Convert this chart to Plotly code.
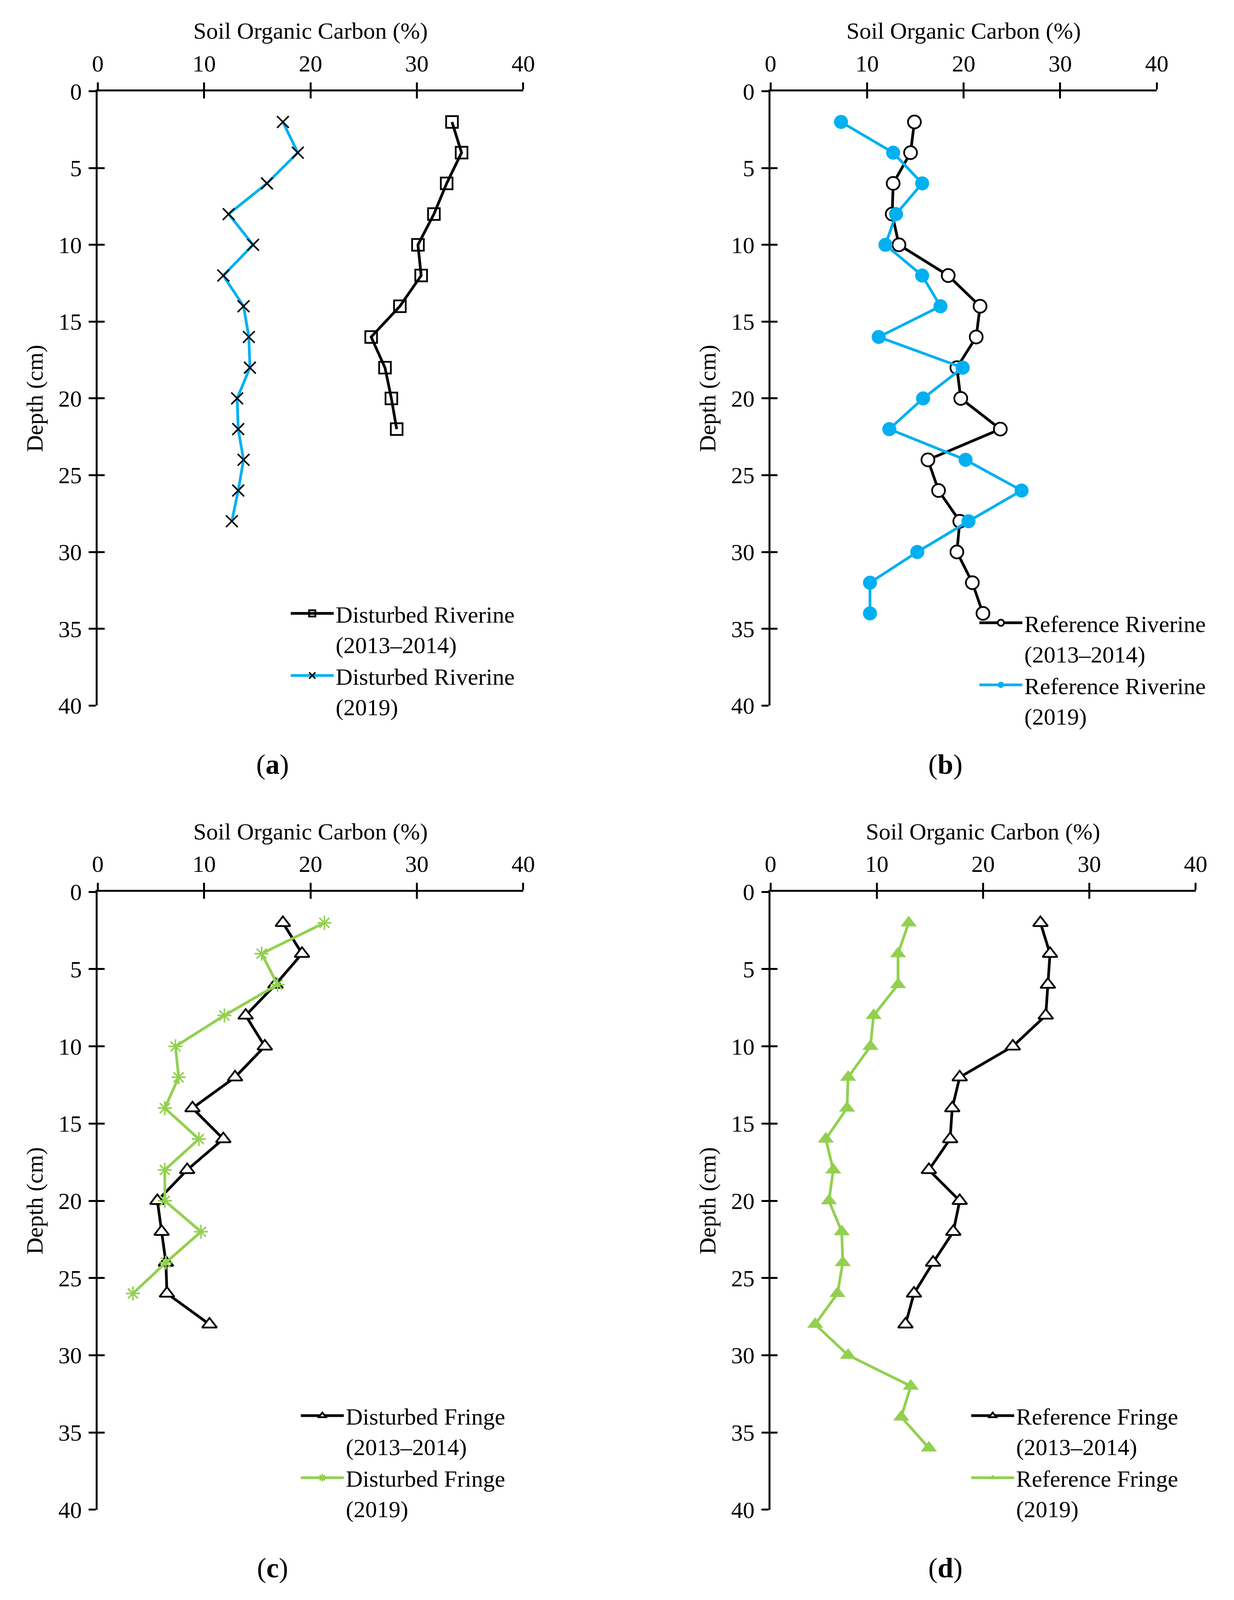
import plotly.graph_objects as go

BLUE = '#00B0F0'
GREEN = '#92D050'
FONT = 'Liberation Serif'
PAGE_W, PAGE_H = 3160, 4117
PAD = 8        # default body margin of the html page
SCALE = 1.006  # small correction seen between requested and captured positions
W, H = PAGE_W - 2 * PAD, PAGE_H - 2 * PAD

# (a) Disturbed Riverine
depth_a_1314 = [2, 4, 6, 8, 10, 12, 14, 16, 18, 20, 22]
soc_a_1314 = [33.3, 34.2, 32.8, 31.6, 30.1, 30.4, 28.4, 25.7, 27.0, 27.6, 28.1]
depth_a_2019 = [2, 4, 6, 8, 10, 12, 14, 16, 18, 20, 22, 24, 26, 28]
soc_a_2019 = [17.4, 18.8, 15.9, 12.3, 14.6, 11.8, 13.7, 14.2, 14.3, 13.1, 13.2, 13.7, 13.2, 12.6]

# (b) Reference Riverine
depth_b_1314 = [2, 4, 6, 8, 10, 12, 14, 16, 18, 20, 22, 24, 26, 28, 30, 32, 34]
soc_b_1314 = [14.9, 14.5, 12.7, 12.6, 13.3, 18.4, 21.7, 21.3, 19.3, 19.7, 23.8, 16.3, 17.4, 19.6, 19.3, 20.9, 22.0]
depth_b_2019 = [2, 4, 6, 8, 10, 12, 14, 16, 18, 20, 22, 24, 26, 28, 30, 32, 34]
soc_b_2019 = [7.3, 12.7, 15.7, 13.0, 11.9, 15.7, 17.6, 11.2, 19.9, 15.8, 12.3, 20.2, 26.0, 20.5, 15.2, 10.3, 10.3]

# (c) Disturbed Fringe
depth_c_1314 = [2, 4, 6, 8, 10, 12, 14, 16, 18, 20, 22, 24, 26, 28]
soc_c_1314 = [17.4, 19.2, 16.7, 13.9, 15.7, 12.9, 8.9, 11.8, 8.4, 5.6, 6.0, 6.4, 6.5, 10.5]
depth_c_2019 = [2, 4, 6, 8, 10, 12, 14, 16, 18, 20, 22, 24, 26]
soc_c_2019 = [21.3, 15.4, 16.9, 11.9, 7.3, 7.6, 6.3, 9.5, 6.3, 6.3, 9.7, 6.4, 3.3]

# (d) Reference Fringe
depth_d_1314 = [2, 4, 6, 8, 10, 12, 14, 16, 18, 20, 22, 24, 26, 28]
soc_d_1314 = [25.4, 26.3, 26.1, 25.9, 22.8, 17.8, 17.1, 16.9, 14.9, 17.8, 17.2, 15.3, 13.5, 12.7]
depth_d_2019 = [2, 4, 6, 8, 10, 12, 14, 16, 18, 20, 22, 24, 26, 28, 30, 32, 34, 36]
soc_d_2019 = [13.0, 12.0, 12.0, 9.7, 9.4, 7.3, 7.2, 5.2, 5.9, 5.5, 6.7, 6.8, 6.3, 4.2, 7.3, 13.2, 12.3, 14.9]

x_ticks = [0, 10, 20, 30, 40]
y_ticks = [0, 5, 10, 15, 20, 25, 30, 35, 40]

# page pixel boxes of each panel: (left, right, top, bottom), legend (x, y), label (x, y)
panels = [
    dict(box=(252, 1348, 235, 1817), leg=(744, 1534), lab=(702, 1969), letter='a'),
    dict(box=(1985, 2980, 235, 1817), leg=(2518, 1558), lab=(2436, 1969), letter='b'),
    dict(box=(252, 1348, 2297, 3888), leg=(770, 3600), lab=(702, 4038), letter='c'),
    dict(box=(1985, 3080, 2297, 3888), leg=(2497, 3600), lab=(2436, 4038), letter='d'),
]

series = [
    # panel index, x, y, name, line colour, marker
    (0, soc_a_1314, depth_a_1314, 'Disturbed Riverine<br>(2013–2014)', 'black',
     dict(symbol='square-open', size=30, color='black', line=dict(color='black', width=4.5))),
    (0, soc_a_2019, depth_a_2019, 'Disturbed Riverine<br>(2019)', BLUE,
     dict(symbol='x-thin', size=30, color='black', line=dict(color='black', width=4))),
    (1, soc_b_1314, depth_b_1314, 'Reference Riverine<br>(2013–2014)', 'black',
     dict(symbol='circle', size=33, color='white', line=dict(color='black', width=4.5))),
    (1, soc_b_2019, depth_b_2019, 'Reference Riverine<br>(2019)', BLUE,
     dict(symbol='circle', size=36, color=BLUE, line=dict(width=0))),
    (2, soc_c_1314, depth_c_1314, 'Disturbed Fringe<br>(2013–2014)', 'black',
     dict(symbol='triangle-up', size=33, color='white', line=dict(color='black', width=4.5))),
    (2, soc_c_2019, depth_c_2019, 'Disturbed Fringe<br>(2019)', GREEN,
     dict(symbol='asterisk-open', size=30, color=GREEN, line=dict(color=GREEN, width=4))),
    (3, soc_d_1314, depth_d_1314, 'Reference Fringe<br>(2013–2014)', 'black',
     dict(symbol='triangle-up', size=33, color='white', line=dict(color='black', width=4.5))),
    (3, soc_d_2019, depth_d_2019, 'Reference Fringe<br>(2019)', GREEN,
     dict(symbol='triangle-up', size=36, color=GREEN, line=dict(width=0))),
]

def px_x(p):
    return (p / SCALE - PAD) / W

def px_y(p):
    return 1 - (p / SCALE - PAD) / H

def sfx(i):
    return '' if i == 0 else str(i + 1)

fig = go.Figure()

for p, xs, ys, name, lc, mk in series:
    fig.add_trace(go.Scatter(
        x=xs, y=ys, name=name, mode='lines+markers',
        line=dict(color=lc, width=7), marker=mk,
        xaxis='x' + sfx(p), yaxis='y' + sfx(p),
        legend='legend' + sfx(p),
    ))

axis_font = dict(family=FONT, size=60, color='black')
layout = dict(
    width=W, height=H, margin=dict(l=0, r=0, t=0, b=0, autoexpand=False),
    paper_bgcolor='white', plot_bgcolor='white',
    font=axis_font, annotations=[],
)

for i, pn in enumerate(panels):
    l, r, t, b = pn['box']
    s = sfx(i)
    dom_x = [px_x(l), px_x(r)]
    dom_y = [px_y(b), px_y(t)]
    common = dict(showgrid=False, zeroline=False, linecolor='black', linewidth=5,
                  tickcolor='black', tickwidth=5, ticklen=18, automargin=False)
    layout['xaxis' + s] = dict(
        common, domain=dom_x, range=[0, 40], side='top', anchor='y' + s,
        showline=True, ticks='outside', tickvals=x_ticks, ticklabelstandoff=4,
        tickfont=axis_font,
        title=dict(text='Soil Organic Carbon (%)', font=axis_font, standoff=12),
    )
    layout['yaxis' + s] = dict(
        common, domain=dom_y, range=[40, 0], anchor='x' + s,
        showline=True, ticks='outside', tickvals=y_ticks, ticklabelstandoff=6,
        tickfont=axis_font,
        title=dict(text='Depth (cm)', font=axis_font, standoff=22),
    )
    # overlay axes give the inside half of the crossing ticks
    ox, oy = str(i + 5), str(i + 5)
    layout['xaxis' + ox] = dict(
        common, range=[0, 40], side='top', anchor='y' + s, overlaying='x' + s,
        showline=False, ticks='inside', tickvals=x_ticks, showticklabels=False,
    )
    layout['yaxis' + oy] = dict(
        common, range=[40, 0], side='left', anchor='x' + s, overlaying='y' + s,
        showline=False, ticks='inside', tickvals=y_ticks, showticklabels=False,
    )
    fig.add_trace(go.Scatter(x=[], y=[], xaxis='x' + ox, yaxis='y' + s, showlegend=False))
    fig.add_trace(go.Scatter(x=[], y=[], xaxis='x' + s, yaxis='y' + oy, showlegend=False))

    lx, ly = pn['leg']
    layout['legend' + s] = dict(
        x=px_x(lx), y=px_y(ly), xanchor='left', yanchor='top',
        font=axis_font, bgcolor='rgba(0,0,0,0)', itemwidth=110,
        valign='top', tracegroupgap=0, itemsizing='trace',
    )
    ax, ay = pn['lab']
    layout['annotations'].append(dict(
        text='(<b>%s</b>)' % pn['letter'], xref='paper', yref='paper',
        x=px_x(ax), y=px_y(ay), xanchor='center', yanchor='middle',
        showarrow=False, font=dict(family=FONT, size=72, color='black'),
    ))

fig.update_layout(**layout)
fig.write_html('out.html')
